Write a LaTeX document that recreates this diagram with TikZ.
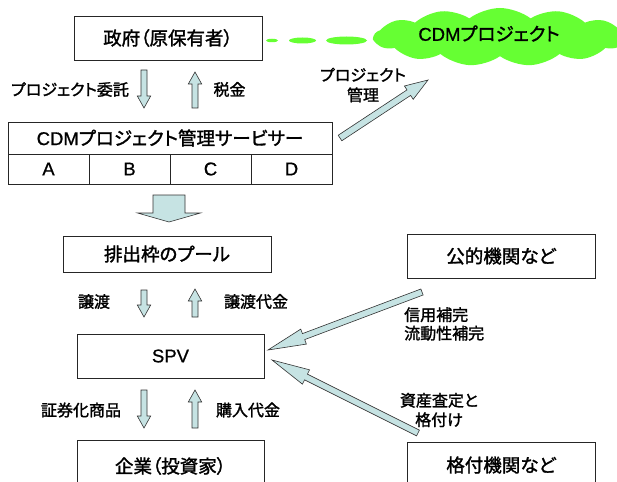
\documentclass[tikz,border=0pt]{standalone}
\usepackage{fontspec}
\setmainfont{Noto Sans CJK JP}[RawFeature={+palt}, FakeBold=1.6]
\newfontfamily\lat{Liberation Sans}[FakeBold=0.8]
\usetikzlibrary{calc,shapes.geometric,shapes.symbols}
\definecolor{cgreen}{RGB}{102,255,51}
\definecolor{afill}{RGB}{198,227,227}
\newcommand\bfnt{\fontsize{18.5}{22}\selectfont}
\newcommand\lfnt{\fontsize{16}{20}\selectfont}
\newcommand\blockarr[5]{%
  \coordinate (hb) at ($(#2)!#5!(#1)$);
  \draw[barr] ($(#1)!#3!90:(#2)$) -- ($(hb)!#3!90:(#2)$) -- ($(hb)!#4!90:(#2)$) -- (#2)
    -- ($(hb)!#4!-90:(#2)$) -- ($(hb)!#3!-90:(#2)$) -- ($(#1)!#3!-90:(#2)$) -- cycle;}
\begin{document}
\begin{tikzpicture}[x=1pt,y=-1pt,
  box/.style={draw=black!85, line width=0.9pt, inner sep=0pt, font=\bfnt},
  lbl/.style={inner sep=0pt, font=\lfnt},
  barr/.style={draw=black!80, line width=0.6pt, fill=afill, line join=miter},
  bub/.style={ellipse, fill=cgreen, inner sep=0pt}]
\clip (0,0) rectangle (617,481);
\fill[white] (0,0) rectangle (617,481);
% boxes
\node[box, minimum width=188pt, minimum height=44pt] (gov) at (168,38) {政府（原保有者）};
\node[box, minimum width=324pt, minimum height=32pt] (cdm) at (170,138) {{\lat CDM}プロジェクト管理サービサー};
\node[box, minimum width=81pt, minimum height=30pt] (ca) at (48.5,169) {\lat A};
\node[box, minimum width=81pt, minimum height=30pt] (cb) at (129.5,169) {\lat B};
\node[box, minimum width=81pt, minimum height=30pt] (cc) at (210.5,169) {\lat C};
\node[box, minimum width=81pt, minimum height=30pt] (cd) at (291.5,169) {\lat D};
\node[box, minimum width=208pt, minimum height=36pt] (pool) at (167,254) {排出枠のプール};
\node[box, minimum width=187pt, minimum height=44pt] (spv) at (170.5,356) {\lat SPV};
\node[box, minimum width=187pt, minimum height=52pt] (corp) at (170.5,466) {企業（投資家）};
\node[box, minimum width=188pt, minimum height=44pt] (pub) at (501,256) {公的機関など};
\node[box, minimum width=188pt, minimum height=46pt] (rate) at (501,465) {格付機関など};
% cloud
\node[cloud, cloud ignores aspect, cloud puffs=13, cloud puff arc=75, fill=cgreen, minimum width=252pt, minimum height=58pt, inner sep=0pt] (cloud) at (500,37) {};
\node[inner sep=0pt, font=\bfnt] (cloudt) at (489,33.5) {{\lat CDM}プロジェクト};
\node[bub, minimum width=12pt, minimum height=3.5pt] (b1) at (272,40.5) {};
\node[bub, minimum width=27pt, minimum height=6pt] (b2) at (302.5,40.5) {};
\node[bub, minimum width=41pt, minimum height=8pt] (b3) at (346.5,40.5) {};
% arrows
\coordinate (a1s) at (144,70);  \coordinate (a1e) at (144,108);
\coordinate (a2s) at (195,108); \coordinate (a2e) at (195,72);
\coordinate (a3s) at (144,290); \coordinate (a3e) at (144,317);
\coordinate (a4s) at (195,317); \coordinate (a4e) at (195,289);
\coordinate (a5s) at (144,390); \coordinate (a5e) at (144,428);
\coordinate (a6s) at (195,428); \coordinate (a6e) at (195,390);
\coordinate (bs) at (169,195);  \coordinate (be) at (169,222);
\coordinate (pms) at (340,138); \coordinate (pme) at (428,80);
\coordinate (crs) at (422,292); \coordinate (cre) at (268,350);
\coordinate (rts) at (418,433); \coordinate (rte) at (272,360);
\blockarr{a1s}{a1e}{3pt}{6.7pt}{12pt}
\blockarr{a2s}{a2e}{3pt}{6.7pt}{12pt}
\blockarr{a3s}{a3e}{3pt}{6.7pt}{12pt}
\blockarr{a4s}{a4e}{3pt}{6.7pt}{12pt}
\blockarr{a5s}{a5e}{3pt}{6.7pt}{12pt}
\blockarr{a6s}{a6e}{3pt}{6.7pt}{12pt}
\blockarr{bs}{be}{16pt}{31.5pt}{9pt}
\blockarr{pms}{pme}{3.3pt}{8pt}{23pt}
\blockarr{crs}{cre}{3.2pt}{8pt}{38pt}
\blockarr{rts}{rte}{3.2pt}{8pt}{38pt}
% labels
\node[lbl] (l1) at (70,89.5) {プロジェクト委託};
\node[lbl] (l2) at (229.5,89.5) {税金};
\node[lbl, align=center] (l3) at (363,85) {プロジェクト\\管理};
\node[lbl] (l4) at (94,301.5) {譲渡};
\node[lbl] (l5) at (256,301.5) {譲渡代金};
\node[lbl] (l6) at (81,410) {証券化商品};
\node[lbl] (l7) at (248,410) {購入代金};
\node[lbl, align=left, anchor=west, font=\fontsize{16}{18.5}\selectfont] (l8) at (404,324) {信用補完\\流動性補完};
\node[lbl, align=center, font=\fontsize{16}{19.5}\selectfont] (l9) at (439,410) {資産査定と\\格付け};
\end{tikzpicture}
\end{document}
